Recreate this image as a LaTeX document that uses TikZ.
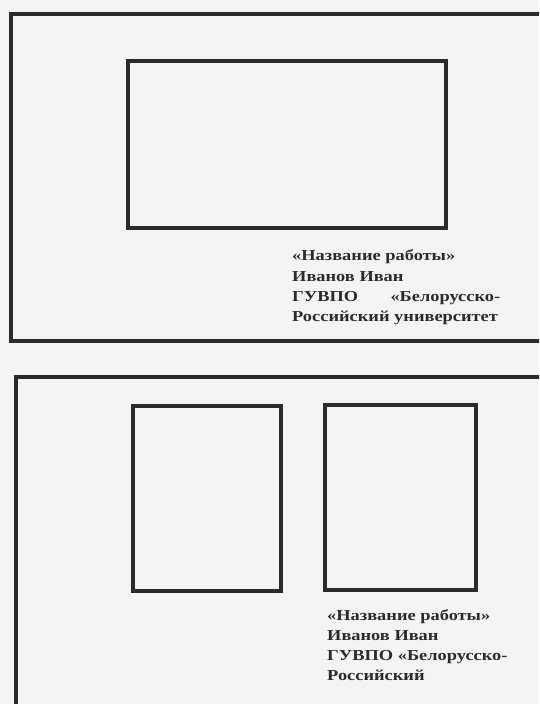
\documentclass[tikz,border=0pt]{standalone}
\usepackage{fontspec}
\setmainfont[FakeStretch=1.21]{Liberation Serif}
\definecolor{ink}{HTML}{2B2B2B}
\definecolor{paper}{HTML}{F4F4F5}
\tikzset{
  frame/.style={draw=ink, line width=4.5pt},
  pane/.style={draw=ink, line width=4.5pt},
  lbl/.style={anchor=base west, inner sep=0pt, text=ink, font=\bfseries\fontsize{15.2}{18}\selectfont}
}
\begin{document}
\begin{tikzpicture}[x=1pt,y=-1pt]
\useasboundingbox (0,0) rectangle (539,704);
\fill[paper] (0,0) rectangle (539,704);
\begin{scope}
\clip (0,0) rectangle (539,704);
\draw[frame] (11,14) rectangle (560,341);
\draw[frame] (16,377) rectangle (560,720);
\end{scope}
\draw[pane] (128,61) rectangle (446,228);
\draw[pane] (133,406) rectangle (281,591);
\draw[pane] (325,405) rectangle (476,590);
\node[lbl] (a1) at (292,260) {«Название работы»};
\node[lbl] (a2) at (292,281) {Иванов Иван};
\node[lbl] (a3) at (292,301.5) {\hbox to 208pt{ГУВПО\hfill«Белорусско-}};
\node[lbl] (a4) at (292,321) {Российский университет};
\node[lbl] (b1) at (327,620) {«Название работы»};
\node[lbl] (b2) at (327,640.5) {Иванов Иван};
\node[lbl] (b3) at (327,660.5) {ГУВПО «Белорусско-};
\node[lbl] (b4) at (327,680.5) {Российский};
\end{tikzpicture}
\end{document}
